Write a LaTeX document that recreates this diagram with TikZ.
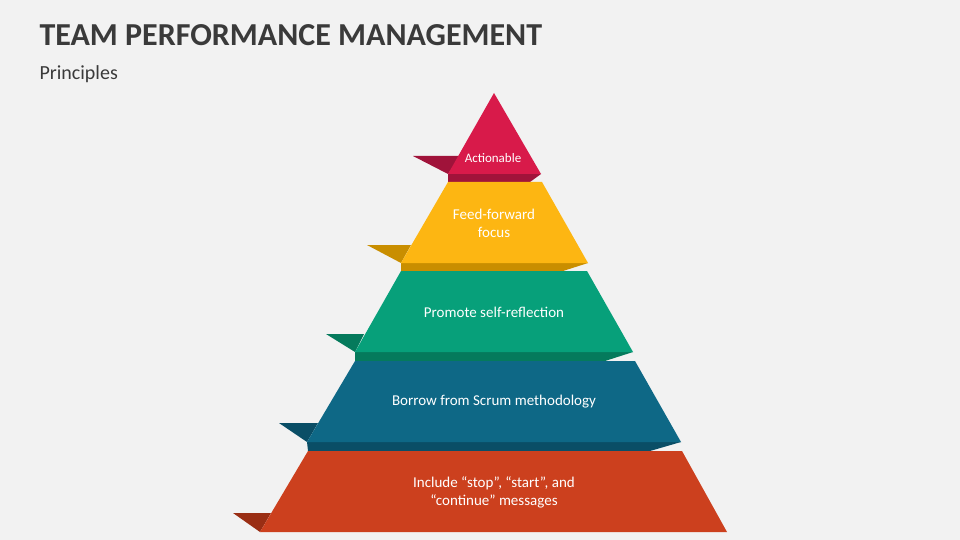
\documentclass[tikz,border=0pt]{standalone}
\usepackage{fontspec}
\setmainfont{Carlito}
\usepackage{xcolor}
\usetikzlibrary{positioning,calc}
\definecolor{bgray}{HTML}{F2F2F2}
\definecolor{cred}{HTML}{D81A4A}\definecolor{dred}{HTML}{A0133A}
\definecolor{cyel}{HTML}{FDB612}\definecolor{dyel}{HTML}{C98E00}
\definecolor{cgrn}{HTML}{07A07A}\definecolor{dgrn}{HTML}{057A5C}
\definecolor{cblu}{HTML}{0E6886}\definecolor{dblu}{HTML}{0A4E66}
\definecolor{corg}{HTML}{CC401E}\definecolor{dorg}{HTML}{9A2E14}
\definecolor{ttl}{HTML}{3A3A3A}
\begin{document}
\begin{tikzpicture}[
    x=1pt, y=-1pt,
    label/.style={text=white, align=center, font=\fontsize{15}{18}\selectfont},
]
    \fill[bgray] (0,0) rectangle (960,540);
    \useasboundingbox (0,0) rectangle (960,540);

    % Title
    \node[anchor=west, text=ttl, font=\fontsize{32}{36}\selectfont\bfseries] (title) at (36,35) {TEAM PERFORMANCE MANAGEMENT};
    \node[anchor=west, text=ttl, font=\fontsize{20}{24}\selectfont] (sub) at (36,74) {Principles};

    % Flaps
    \fill[dred] (413,156) -- (460,156) -- (448,174) -- cycle;
    \fill[dyel] (367,245) -- (411,245) -- (401,263) -- cycle;
    \fill[dgrn] (326,334) -- (364,334) -- (355,352) -- cycle;
    \fill[dblu] (279,423) -- (318,423) -- (307,442) -- cycle;
    \fill[dorg] (233,513) -- (271,513) -- (260,532) -- cycle;

    % Folds between bands
    \fill[dred] (448,174) -- (541,174) -- (530,182) -- (448,182) -- cycle;
    \fill[dyel] (401,263) -- (588,263) -- (563,271) -- (401,271) -- cycle;
    \fill[dgrn] (355,352) -- (633,352) -- (605,361) -- (355,361) -- cycle;
    \fill[dblu] (307,442) -- (681,442) -- (650,451) -- (308,451) -- cycle;

    % Bands
    \fill[cred] (494,93) -- (541,174) -- (448,174) -- cycle;
    \fill[cyel] (448,182) -- (542,182) -- (588,263) -- (401,263) -- cycle;
    \fill[cgrn] (401,271) -- (587,271) -- (633,352) -- (355,352) -- cycle;
    \fill[cblu] (355,361) -- (635,361) -- (681,442) -- (307,442) -- cycle;
    \fill[corg] (308,451) -- (682,451) -- (727,532) -- (260,532) -- cycle;

    % Labels
    \node[label, font=\fontsize{13}{15}\selectfont] (act) at (493,158) {Actionable};
    \node[label] (ffw) at (494,223) {Feed-forward\\focus};
    \node[label] (psr) at (494,312) {Promote self-reflection};
    \node[label] (bsm) at (494,402) {Borrow from Scrum methodology};
    \node[label] (ssc) at (494,492) {Include “stop”, “start”, and\\“continue” messages};
\end{tikzpicture}
\end{document}
